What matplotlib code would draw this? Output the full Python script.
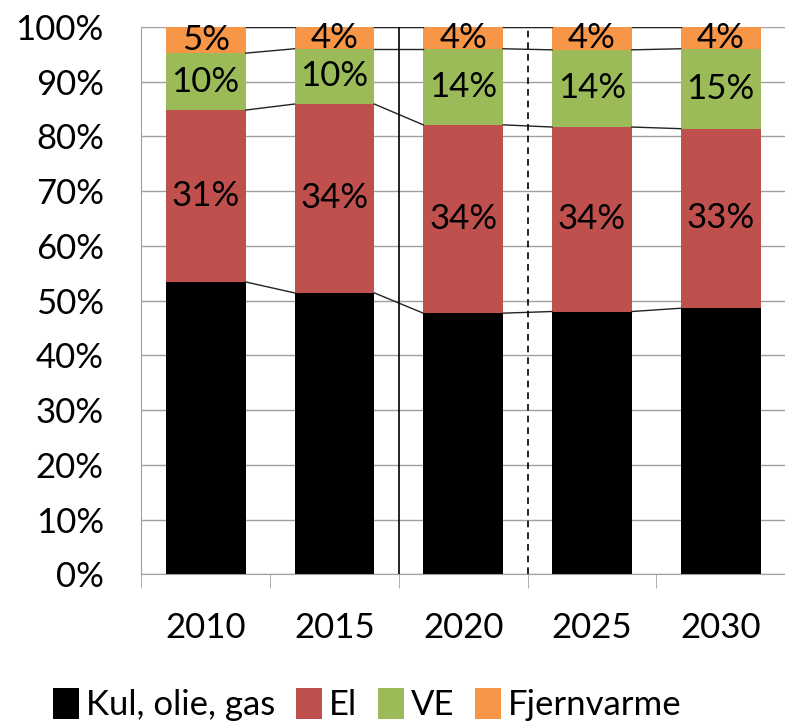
import matplotlib
matplotlib.use("Agg")
import matplotlib.pyplot as plt
import numpy as np
from matplotlib.patches import Patch

plt.rcParams["font.family"] = ["Lato", "DejaVu Sans"]

years = ["2010", "2015", "2020", "2025", "2030"]
kul = [53.4, 51.4, 47.7, 48.0, 48.6]
el = [31.4, 34.5, 34.4, 33.7, 32.8]
ve = [10.4, 10.1, 13.9, 14.1, 14.6]
fjern = [4.8, 4.0, 4.0, 4.2, 4.0]
series_names = ["Kul, olie, gas", "El", "VE", "Fjernvarme"]
colors = ["#000000", "#c0504d", "#9bbb59", "#f79646"]

fig = plt.figure(figsize=(7.85, 7.26), dpi=100)
ax = fig.add_axes([0.18, 0.209, 0.82, 0.754])

x = np.arange(len(years))
width = 0.62
bottom = np.zeros(len(years))
for vals, name, col in zip([kul, el, ve, fjern], series_names, colors):
    vals = np.array(vals)
    ax.bar(x, vals, width, bottom=bottom, color=col, label=name, zorder=2)
    for i, v in enumerate(vals):
        if name == "Kul, olie, gas":
            continue
        ax.text(x[i], bottom[i] + v / 2, f"{v:.0f}%", ha="center", va="center",
                fontsize=25, color="black", zorder=4)
    bottom = bottom + vals
    # series lines between bars
    for i in range(len(years) - 1):
        ax.plot([x[i] + width / 2, x[i + 1] - width / 2], [bottom[i], bottom[i + 1]],
                color="#222222", lw=1, zorder=3)

ax.set_xlim(-0.5, 4.5)
ax.set_ylim(0, 100)
ax.set_yticks(np.arange(0, 101, 10))
ax.set_yticklabels([f"{v}%" for v in range(0, 101, 10)], fontsize=25)
ax.yaxis.grid(True, color="#a0a0a0", lw=1, zorder=0)
ax.tick_params(axis="y", length=0, pad=27)

ax.set_xticks(x)
ax.set_xticklabels(years, fontsize=25)
ax.set_xticks(np.arange(-0.5, 5, 1), minor=True)
ax.tick_params(axis="x", which="major", length=0, pad=27)
ax.tick_params(axis="x", which="minor", length=10, color="#a0a0a0", direction="out")

for s in ["top", "right"]:
    ax.spines[s].set_visible(False)
ax.spines["left"].set_color("#a0a0a0")
ax.spines["bottom"].set_color("#a0a0a0")

ax.axvline(1.5, color="black", lw=1.2, zorder=3)
ax.axvline(2.5, color="black", lw=1.2, ls=(0, (4, 3)), zorder=3)

handles = [Patch(facecolor=c, label=n) for n, c in zip(series_names, colors)]
fig.legend(handles=handles, loc="center", bbox_to_anchor=(0.468, 0.03), ncol=4,
           frameon=False, fontsize=25, handlelength=0.75, handleheight=1.0,
           handletextpad=0.2, columnspacing=0.6)

fig.savefig("out.png", dpi=100)
